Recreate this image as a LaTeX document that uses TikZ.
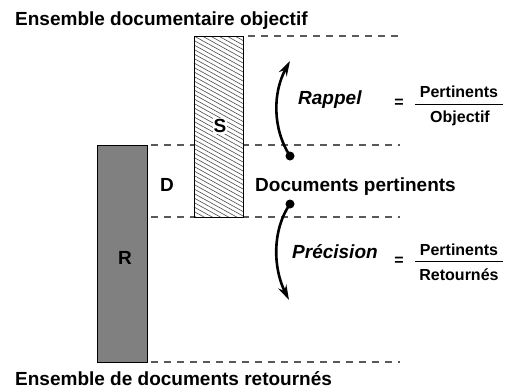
\documentclass[tikz,border=0pt]{standalone}
\usepackage{fontspec}
\setmainfont{Liberation Sans}
\usetikzlibrary{arrows.meta}

\tikzset{
  lbl/.style={font=\fontsize{19}{22}\selectfont\bfseries, inner sep=0pt},
  ital/.style={font=\fontsize{19}{22}\selectfont\bfseries\itshape, inner sep=0pt},
  frac/.style={font=\fontsize{16}{19}\selectfont\bfseries, inner sep=0pt},
  guide/.style={draw=black!65, line width=1.1pt, dash pattern=on 7pt off 6pt},
  setbox/.style={draw=black, line width=1pt},
  flow/.style={line width=2.6pt, -{Stealth[length=15pt,width=9pt]}},
  fracbar/.style={line width=1pt}
}

\begin{document}
\begin{tikzpicture}[x=1pt,y=-1pt]
\useasboundingbox (0,0) rectangle (506,389);

% level guides
\draw[guide] (248,36) -- (400,36);
\draw[guide] (151,145) -- (400,145);
\draw[guide] (151,217) -- (400,217);
\draw[guide] (151,362) -- (400,362);

% objective set S (hatched)
\fill[white] (194,36) rectangle (243,217);
\begin{scope}
  \clip (194,36) rectangle (243,217);
  \foreach \c in {0,4.5,...,220}
    \draw[black!70, line width=0.6pt] (194,36+\c-27) -- (243,36+\c);
\end{scope}
\draw[setbox] (194,36) rectangle (243,217);
\node[lbl, fill=white, inner sep=1pt] (s) at (220,126) {S};

% returned set R
\draw[setbox, fill=black!50] (97,145) rectangle (147,362);
\node[lbl] (r) at (125,258) {R};

\node[lbl] (d) at (167,185) {D};

% captions
\node[lbl, anchor=base west] (top) at (15,25) {Ensemble documentaire objectif};
\node[lbl, anchor=base west, text depth=0pt] (bot) at (15,385.5) {Ensemble de documents retournés};
\node[lbl, anchor=base west] (dp) at (255,191) {Documents pertinents};

% recall arrow
\coordinate (rs) at (290,156);
\coordinate (re) at (290,61);
\fill (rs) circle (4.5);
\draw[flow] (rs) .. controls (272,128) and (273,92) .. (re);

% precision arrow
\coordinate (ps) at (290,204);
\coordinate (pe) at (289,300);
\fill (ps) circle (4.5);
\draw[flow] (ps) .. controls (272,230) and (273,268) .. (pe);

% recall formula
\node[ital, anchor=base west] (rap) at (298,104) {Rappel};
\node[frac] (eq1) at (399,103) {=};
\node[frac, anchor=base] (n1) at (459,97) {Pertinents};
\node[frac, anchor=base] (d1) at (460,122) {Objectif};
\draw[fracbar] (415,104) -- (503,104);

% precision formula
\node[ital, anchor=base west] (pre) at (292,258) {Précision};
\node[frac] (eq2) at (399,261) {=};
\node[frac, anchor=base] (n2) at (459,255) {Pertinents};
\node[frac, anchor=base] (d2) at (459,280) {Retournés};
\draw[fracbar] (415,261) -- (503,261);
\end{tikzpicture}
\end{document}
